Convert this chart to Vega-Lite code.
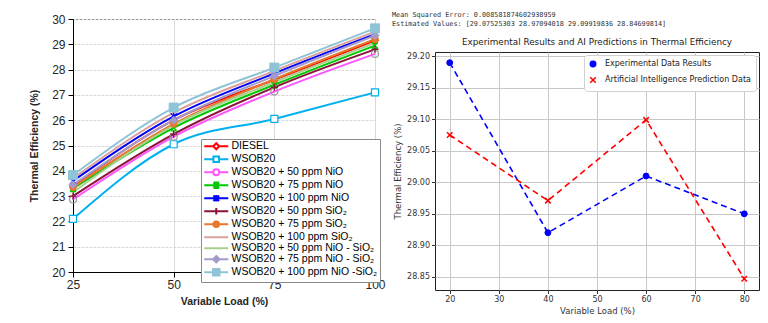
{
  "$schema": "https://vega.github.io/schema/vega-lite/v6.json",
  "background": "white",
  "padding": {"left": 29, "top": 12, "right": 8, "bottom": 3},
  "spacing": 6,
  "resolve": {"scale": {"stroke": "independent", "fill": "independent", "shape": "independent"}, "legend": {"stroke": "independent", "fill": "independent", "shape": "independent"}},
  "datasets": {
    "left": [
      {"series": "DIESEL", "load": 25, "eff": 23.4}, {"series": "DIESEL", "load": 50, "eff": 26.0}, {"series": "DIESEL", "load": 75, "eff": 27.6}, {"series": "DIESEL", "load": 100, "eff": 29.15},
      {"series": "WSOB20", "load": 25, "eff": 22.1}, {"series": "WSOB20", "load": 50, "eff": 25.05}, {"series": "WSOB20", "load": 75, "eff": 26.05}, {"series": "WSOB20", "load": 100, "eff": 27.1},
      {"series": "WSOB20 + 50 ppm NiO", "load": 25, "eff": 22.87}, {"series": "WSOB20 + 50 ppm NiO", "load": 50, "eff": 25.35}, {"series": "WSOB20 + 50 ppm NiO", "load": 75, "eff": 27.13}, {"series": "WSOB20 + 50 ppm NiO", "load": 100, "eff": 28.62},
      {"series": "WSOB20 + 75 ppm NiO", "load": 25, "eff": 23.3}, {"series": "WSOB20 + 75 ppm NiO", "load": 50, "eff": 25.7}, {"series": "WSOB20 + 75 ppm NiO", "load": 75, "eff": 27.4}, {"series": "WSOB20 + 75 ppm NiO", "load": 100, "eff": 28.95},
      {"series": "WSOB20 + 100 ppm NiO", "load": 25, "eff": 23.6}, {"series": "WSOB20 + 100 ppm NiO", "load": 50, "eff": 26.15}, {"series": "WSOB20 + 100 ppm NiO", "load": 75, "eff": 27.85}, {"series": "WSOB20 + 100 ppm NiO", "load": 100, "eff": 29.4},
      {"series": "WSOB20 + 50 ppm SiO₂", "load": 25, "eff": 23.0}, {"series": "WSOB20 + 50 ppm SiO₂", "load": 50, "eff": 25.45}, {"series": "WSOB20 + 50 ppm SiO₂", "load": 75, "eff": 27.3}, {"series": "WSOB20 + 50 ppm SiO₂", "load": 100, "eff": 28.8},
      {"series": "WSOB20 + 75 ppm SiO₂", "load": 25, "eff": 23.35}, {"series": "WSOB20 + 75 ppm SiO₂", "load": 50, "eff": 25.85}, {"series": "WSOB20 + 75 ppm SiO₂", "load": 75, "eff": 27.62}, {"series": "WSOB20 + 75 ppm SiO₂", "load": 100, "eff": 29.2},
      {"series": "WSOB20 + 100 ppm SiO₂", "load": 25, "eff": 23.7}, {"series": "WSOB20 + 100 ppm SiO₂", "load": 50, "eff": 26.3}, {"series": "WSOB20 + 100 ppm SiO₂", "load": 75, "eff": 27.95}, {"series": "WSOB20 + 100 ppm SiO₂", "load": 100, "eff": 29.5},
      {"series": "WSOB20 + 50 ppm NiO - SiO₂", "load": 25, "eff": 23.15}, {"series": "WSOB20 + 50 ppm NiO - SiO₂", "load": 50, "eff": 25.8}, {"series": "WSOB20 + 50 ppm NiO - SiO₂", "load": 75, "eff": 27.5}, {"series": "WSOB20 + 50 ppm NiO - SiO₂", "load": 100, "eff": 29.05},
      {"series": "WSOB20 + 75 ppm NiO - SiO₂", "load": 25, "eff": 23.45}, {"series": "WSOB20 + 75 ppm NiO - SiO₂", "load": 50, "eff": 26.0}, {"series": "WSOB20 + 75 ppm NiO - SiO₂", "load": 75, "eff": 27.75}, {"series": "WSOB20 + 75 ppm NiO - SiO₂", "load": 100, "eff": 29.35},
      {"series": "WSOB20 + 100 ppm NiO -SiO₂", "load": 25, "eff": 23.83}, {"series": "WSOB20 + 100 ppm NiO -SiO₂", "load": 50, "eff": 26.5}, {"series": "WSOB20 + 100 ppm NiO -SiO₂", "load": 75, "eff": 28.08}, {"series": "WSOB20 + 100 ppm NiO -SiO₂", "load": 100, "eff": 29.63}
    ],
    "right": [
      {"series": "Experimental Data Results", "load": 20, "value": 29.19},
      {"series": "Experimental Data Results", "load": 40, "value": 28.92},
      {"series": "Experimental Data Results", "load": 60, "value": 29.01},
      {"series": "Experimental Data Results", "load": 80, "value": 28.95},
      {"series": "Artificial Intelligence Prediction Data", "load": 20, "value": 29.07525303},
      {"series": "Artificial Intelligence Prediction Data", "load": 40, "value": 28.97094018},
      {"series": "Artificial Intelligence Prediction Data", "load": 60, "value": 29.09919836},
      {"series": "Artificial Intelligence Prediction Data", "load": 80, "value": 28.84699814}
    ],
    "empty": []
  },
  "hconcat": [
    {
      "width": 302,
      "height": 253,
      "view": {"stroke": "#595959"},
      "data": {"name": "left"},
      "encoding": {
        "x": {"field": "load", "type": "quantitative", "scale": {"domain": [25, 100], "nice": false},
          "axis": {"values": [25, 50, 75, 100], "title": "Variable Load (%)", "labelFont": "Liberation Sans", "labelFontSize": 12, "labelColor": "#262626", "titleFont": "Liberation Sans", "titleFontSize": 10.5, "titleFontWeight": "bold", "titleColor": "#262626", "domainColor": "#000", "tickColor": "#000", "tickSize": 5, "labelPadding": 2, "titlePadding": 6, "gridColor": "#d9d9d9", "labelFlush": false}},
        "y": {"field": "eff", "type": "quantitative", "scale": {"domain": [20, 30], "nice": false, "zero": false},
          "axis": {"values": [20, 21, 22, 23, 24, 25, 26, 27, 28, 29, 30], "title": "Thermal Efficiency (%)", "labelFont": "Liberation Sans", "labelFontSize": 12, "labelColor": "#262626", "titleFont": "Liberation Sans", "titleFontSize": 10.5, "titleFontWeight": "bold", "titleColor": "#262626", "domainColor": "#000", "tickColor": "#000", "tickSize": 5, "labelPadding": 3, "titlePadding": 12, "gridColor": "#d9d9d9", "gridDash": [3, 1]}}
      },
      "layer": [
        {
          "transform": [{"filter": "datum.load > 1000"}],
          "mark": {"type": "point", "opacity": 1, "strokeWidth": 2},
          "encoding": {
            "stroke": {"field": "series", "type": "nominal",
              "scale": {"domain": ["DIESEL", "WSOB20", "WSOB20 + 50 ppm NiO", "WSOB20 + 75 ppm NiO", "WSOB20 + 100 ppm NiO", "WSOB20 + 50 ppm SiO₂", "WSOB20 + 75 ppm SiO₂", "WSOB20 + 100 ppm SiO₂", "WSOB20 + 50 ppm NiO - SiO₂", "WSOB20 + 75 ppm NiO - SiO₂", "WSOB20 + 100 ppm NiO -SiO₂"],
                "range": ["#FF0000", "#00B0F0", "#FF55FF", "#00C800", "#0000FF", "#8B1538", "#E8772E", "#D9A09C", "#A8D08D", "#A39BCB", "#8FC3D8"]},
              "legend": {"title": null, "orient": "none", "legendX": 128, "legendY": 120, "padding": 2, "strokeColor": "#8a8a8a", "fillColor": "white", "labelFont": "Liberation Sans", "labelFontSize": 10.5, "labelColor": "#000", "symbolSize": 64, "symbolStrokeWidth": 2, "symbolOffset": 8, "labelOffset": 10, "rowPadding": -2.6, "symbolOpacity": 1, "labelLimit": 300}},
            "fill": {"field": "series", "type": "nominal",
              "scale": {"domain": ["DIESEL", "WSOB20", "WSOB20 + 50 ppm NiO", "WSOB20 + 75 ppm NiO", "WSOB20 + 100 ppm NiO", "WSOB20 + 50 ppm SiO₂", "WSOB20 + 75 ppm SiO₂", "WSOB20 + 100 ppm SiO₂", "WSOB20 + 50 ppm NiO - SiO₂", "WSOB20 + 75 ppm NiO - SiO₂", "WSOB20 + 100 ppm NiO -SiO₂"],
                "range": ["#FFFFFF", "#FFFFFF", "#FFFFFF", "#00C800", "#0000FF", "#8B1538", "#E8772E", "#D9A09C", "#A8D08D", "#A39BCB", "#8FC3D8"]},
              "legend": {"title": null, "orient": "none", "legendX": 128, "legendY": 120, "padding": 2, "strokeColor": "#8a8a8a", "fillColor": "white", "labelFont": "Liberation Sans", "labelFontSize": 10.5, "labelColor": "#000", "symbolSize": 64, "symbolStrokeWidth": 2, "symbolOffset": 8, "labelOffset": 10, "rowPadding": -2.6, "symbolOpacity": 1, "labelLimit": 300}},
            "shape": {"field": "series", "type": "nominal",
              "scale": {"domain": ["DIESEL", "WSOB20", "WSOB20 + 50 ppm NiO", "WSOB20 + 75 ppm NiO", "WSOB20 + 100 ppm NiO", "WSOB20 + 50 ppm SiO₂", "WSOB20 + 75 ppm SiO₂", "WSOB20 + 100 ppm SiO₂", "WSOB20 + 50 ppm NiO - SiO₂", "WSOB20 + 75 ppm NiO - SiO₂", "WSOB20 + 100 ppm NiO -SiO₂"],
                "range": [
                  "M-3,0H-0.75M0.75,0H3M0,-0.75L0.75,0L0,0.75L-0.75,0Z",
                  "M-3,0H-0.7M0.7,0H3M-0.7,-0.7H0.7V0.7H-0.7Z",
                  "M-3,0H-0.75M0.75,0H3M-0.75,0A0.75,0.75 0 1,0 0.75,0A0.75,0.75 0 1,0 -0.75,0Z",
                  "M-3,0H3M-0.7,-0.7L0.7,0.7M-0.7,0.7L0.7,-0.7M-0.7,-0.7H0.7M-0.7,0.7H0.7",
                  "M-3,0H3M-0.7,-0.7L0.7,0.7M-0.7,0.7L0.7,-0.7M0,-0.8V0.8",
                  "M-3,0H3M0,-0.8V0.8",
                  "M-3,0H3M-0.7,0A0.7,0.7 0 1,0 0.7,0A0.7,0.7 0 1,0 -0.7,0Z",
                  "M-3,0H3",
                  "M-3,0H3",
                  "M-3,0H3M0,-0.8L0.8,0L0,0.8L-0.8,0Z",
                  "M-3,0H3M-0.8,-0.8H0.8V0.8H-0.8Z"
                ]},
              "legend": {"title": null, "orient": "none", "legendX": 128, "legendY": 120, "padding": 2, "strokeColor": "#8a8a8a", "fillColor": "white", "labelFont": "Liberation Sans", "labelFontSize": 10.5, "labelColor": "#000", "symbolSize": 64, "symbolStrokeWidth": 2, "symbolOffset": 8, "labelOffset": 10, "rowPadding": -2.6, "symbolOpacity": 1, "labelLimit": 300}}
          }
        },
        {
          "mark": {"type": "line", "interpolate": "monotone", "strokeWidth": 2},
          "encoding": {
            "stroke": {"field": "series", "type": "nominal",
              "scale": {"domain": ["DIESEL", "WSOB20", "WSOB20 + 50 ppm NiO", "WSOB20 + 75 ppm NiO", "WSOB20 + 100 ppm NiO", "WSOB20 + 50 ppm SiO₂", "WSOB20 + 75 ppm SiO₂", "WSOB20 + 100 ppm SiO₂", "WSOB20 + 50 ppm NiO - SiO₂", "WSOB20 + 75 ppm NiO - SiO₂", "WSOB20 + 100 ppm NiO -SiO₂"],
                "range": ["#FF0000", "#00B0F0", "#FF55FF", "#00C800", "#0000FF", "#8B1538", "#E8772E", "#D9A09C", "#A8D08D", "#A39BCB", "#8FC3D8"]},
              "legend": null}
          }
        },
        {"transform": [{"filter": {"field": "series", "equal": "DIESEL"}}],
         "mark": {"type": "point", "shape": "M0,-1L1,0L0,1L-1,0Z", "size": 36, "filled": true, "fill": "#FFFFFF", "stroke": "#FF0000", "strokeWidth": 1.5, "opacity": 1}},
        {"transform": [{"filter": {"field": "series", "equal": "WSOB20"}}],
         "mark": {"type": "point", "shape": "M-1,-1H1V1H-1Z", "size": 49, "filled": true, "fill": "#FFFFFF", "stroke": "#00B0F0", "strokeWidth": 1.2, "opacity": 1}},
        {"transform": [{"filter": {"field": "series", "equal": "WSOB20 + 50 ppm NiO"}}],
         "mark": {"type": "point", "shape": "circle", "size": 49, "filled": false, "stroke": "#999999", "strokeWidth": 1.2, "opacity": 1}},
        {"transform": [{"filter": {"field": "series", "equal": "WSOB20 + 75 ppm NiO"}}],
         "mark": {"type": "point", "shape": "M-1,-1L1,1M-1,1L1,-1M-1,-1H1M-1,1H1", "size": 36, "filled": false, "stroke": "#00C800", "strokeWidth": 1.3, "opacity": 1}},
        {"transform": [{"filter": {"field": "series", "equal": "WSOB20 + 100 ppm NiO"}}],
         "mark": {"type": "point", "shape": "M-1,-1L1,1M-1,1L1,-1M0,-1.2V1.2", "size": 36, "filled": false, "stroke": "#0000FF", "strokeWidth": 1.3, "opacity": 1}},
        {"transform": [{"filter": {"field": "series", "equal": "WSOB20 + 50 ppm SiO₂"}}],
         "mark": {"type": "point", "shape": "M-1.2,0H1.2M0,-1.2V1.2", "size": 36, "filled": false, "stroke": "#8B1538", "strokeWidth": 1.3, "opacity": 1}},
        {"transform": [{"filter": {"field": "series", "equal": "WSOB20 + 75 ppm SiO₂"}}],
         "mark": {"type": "point", "shape": "circle", "size": 45, "filled": true, "fill": "#E8772E", "stroke": "#E8772E", "strokeWidth": 1, "opacity": 1}},
        {"transform": [{"filter": {"field": "series", "equal": "WSOB20 + 75 ppm NiO - SiO₂"}}],
         "mark": {"type": "point", "shape": "M0,-1L1,0L0,1L-1,0Z", "size": 64, "filled": true, "fill": "#A39BCB", "stroke": "#A39BCB", "strokeWidth": 1, "opacity": 1}},
        {"transform": [{"filter": {"field": "series", "equal": "WSOB20 + 100 ppm NiO -SiO₂"}}],
         "mark": {"type": "point", "shape": "M-1,-1H1V1H-1Z", "size": 81, "filled": true, "fill": "#8FC3D8", "stroke": "#8FC3D8", "strokeWidth": 1, "opacity": 1}}
      ]
    },
    {
      "spacing": 0,
      "resolve": {"scale": {"stroke": "independent", "fill": "independent", "shape": "independent"}, "legend": {"stroke": "independent", "fill": "independent", "shape": "independent"}},
      "vconcat": [
        {
          "width": 324,
          "height": 18,
          "title": {"text": ["Mean Squared Error: 0.008581874602938959", "Estimated Values: [29.07525303 28.97094018 29.09919836 28.84699814]"], "anchor": "start", "frame": "group", "dx": -43, "font": "DejaVu Sans Mono", "fontSize": 6.8, "fontWeight": "normal", "lineHeight": 9, "color": "#333333", "offset": -9},
          "data": {"name": "empty"},
          "mark": {"type": "rule"},
          "encoding": {}
        },
        {
          "width": 324,
          "height": 238,
          "title": {"text": "Experimental Results and AI Predictions in Thermal Efficiency", "font": "DejaVu Sans", "fontSize": 8.8, "fontWeight": "normal", "anchor": "middle", "frame": "group", "offset": 5, "color": "#222222"},
          "view": {"stroke": "#222222"},
          "data": {"name": "right"},
          "encoding": {
            "x": {"field": "load", "type": "quantitative", "scale": {"domain": [17, 83], "nice": false},
              "axis": {"values": [20, 30, 40, 50, 60, 70, 80], "title": "Variable Load (%)", "labelFont": "DejaVu Sans", "labelFontSize": 8, "labelColor": "#333333", "titleFont": "DejaVu Sans", "titleFontSize": 8.5, "titleFontWeight": "normal", "titleColor": "#333333", "domain": false, "tickColor": "#333333", "tickSize": 3.5, "labelPadding": 2, "titlePadding": 3, "gridColor": "#c8c8c8", "labelFlush": false}},
            "y": {"field": "value", "type": "quantitative", "scale": {"domain": [28.829, 29.207], "nice": false, "zero": false},
              "axis": {"values": [28.85, 28.9, 28.95, 29.0, 29.05, 29.1, 29.15, 29.2], "format": ".2f", "title": "Thermal Efficiency (%)", "labelFont": "DejaVu Sans", "labelFontSize": 8, "labelColor": "#333333", "titleFont": "DejaVu Sans", "titleFontSize": 8.5, "titleFontWeight": "normal", "titleColor": "#333333", "domain": false, "tickColor": "#333333", "tickSize": 3.5, "labelPadding": 2, "titlePadding": 4, "gridColor": "#c8c8c8", "labelFlush": false}}
          },
          "layer": [
            {
              "transform": [{"filter": "datum.load > 1000"}],
              "mark": {"type": "point", "opacity": 1, "strokeWidth": 1.5},
              "encoding": {
                "stroke": {"field": "series", "type": "nominal", "scale": {"domain": ["Experimental Data Results", "Artificial Intelligence Prediction Data"], "range": ["#0000FF", "#FF0000"]},
                  "legend": {"title": null, "orient": "top-right", "offset": 3, "padding": 5, "strokeColor": "#d0d0d0", "fillColor": "white", "cornerRadius": 3, "labelFont": "DejaVu Sans", "labelFontSize": 8, "labelColor": "#222222", "symbolSize": 30, "symbolStrokeWidth": 1.5, "symbolOpacity": 1, "rowPadding": 4, "labelOffset": 8, "labelLimit": 300}},
                "fill": {"field": "series", "type": "nominal", "scale": {"domain": ["Experimental Data Results", "Artificial Intelligence Prediction Data"], "range": ["#0000FF", "#FF0000"]},
                  "legend": {"title": null, "orient": "top-right", "offset": 3, "padding": 5, "strokeColor": "#d0d0d0", "fillColor": "white", "cornerRadius": 3, "labelFont": "DejaVu Sans", "labelFontSize": 8, "labelColor": "#222222", "symbolSize": 30, "symbolStrokeWidth": 1.5, "symbolOpacity": 1, "rowPadding": 4, "labelOffset": 8, "labelLimit": 300}},
                "shape": {"field": "series", "type": "nominal", "scale": {"domain": ["Experimental Data Results", "Artificial Intelligence Prediction Data"], "range": ["circle", "M-1,-1L1,1M-1,1L1,-1"]},
                  "legend": {"title": null, "orient": "top-right", "offset": 3, "padding": 5, "strokeColor": "#d0d0d0", "fillColor": "white", "cornerRadius": 3, "labelFont": "DejaVu Sans", "labelFontSize": 8, "labelColor": "#222222", "symbolSize": 30, "symbolStrokeWidth": 1.5, "symbolOpacity": 1, "rowPadding": 4, "labelOffset": 8, "labelLimit": 300}}
              }
            },
            {
              "mark": {"type": "line", "strokeDash": [6, 4], "strokeWidth": 1.6},
              "encoding": {
                "stroke": {"field": "series", "type": "nominal", "scale": {"domain": ["Experimental Data Results", "Artificial Intelligence Prediction Data"], "range": ["#0000FF", "#FF0000"]}, "legend": null}
              }
            },
            {"transform": [{"filter": {"field": "series", "equal": "Experimental Data Results"}}],
             "mark": {"type": "point", "shape": "circle", "size": 35, "filled": true, "fill": "#0000FF", "stroke": "#0000FF", "strokeWidth": 1, "opacity": 1}},
            {"transform": [{"filter": {"field": "series", "equal": "Artificial Intelligence Prediction Data"}}],
             "mark": {"type": "point", "shape": "M-1,-1L1,1M-1,1L1,-1", "size": 30, "filled": false, "stroke": "#FF0000", "strokeWidth": 1.5, "opacity": 1}}
          ]
        }
      ]
    }
  ],
  "config": {"view": {"stroke": null}, "font": "Liberation Sans"}
}
